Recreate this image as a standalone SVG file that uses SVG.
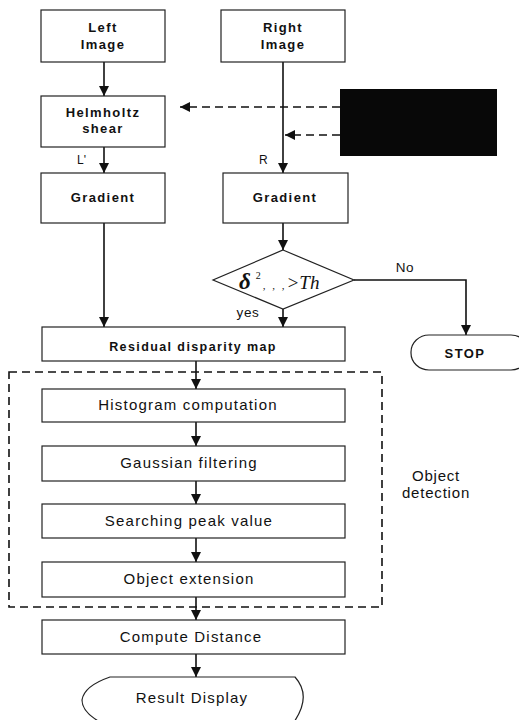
<svg xmlns="http://www.w3.org/2000/svg" width="519" height="720" viewBox="0 0 519 720">
<style>
.box{fill:#fff;stroke:#222;stroke-width:1.2}
.b{font-family:"Liberation Sans",Arial,sans-serif;font-weight:bold;font-size:13px;letter-spacing:1.4px;text-anchor:middle;fill:#111}
.r{font-family:"Liberation Sans",Arial,sans-serif;font-size:15px;letter-spacing:1.2px;text-anchor:middle;fill:#111}
.lab{font-family:"Liberation Sans",Arial,sans-serif;font-size:13.5px;letter-spacing:0.6px;text-anchor:middle;fill:#111}
.ln{fill:none;stroke:#111;stroke-width:1.6}
.dash{fill:none;stroke:#111;stroke-width:1.6;stroke-dasharray:8,5}
</style>
<defs>
<marker id="ah" viewBox="0 0 10 10" refX="10" refY="5" markerWidth="10" markerHeight="10" markerUnits="userSpaceOnUse" orient="auto">
<path d="M0,0 L10,5 L0,10 z" fill="#111"/>
</marker>
</defs>
<g id="connectors">
<line class="ln" x1="104" y1="62" x2="104" y2="96" marker-end="url(#ah)"/>
<line class="ln" x1="104" y1="147" x2="104" y2="173" marker-end="url(#ah)"/>
<line class="ln" x1="283" y1="62" x2="283" y2="173" marker-end="url(#ah)"/>
<line class="dash" x1="340" y1="107" x2="180" y2="107" marker-end="url(#ah)"/>
<line class="dash" x1="340" y1="135" x2="285" y2="135" marker-end="url(#ah)"/>
<line class="ln" x1="283" y1="223" x2="283" y2="250" marker-end="url(#ah)"/>
<line class="ln" x1="104" y1="223" x2="104" y2="327" marker-end="url(#ah)"/>
<line class="ln" x1="283" y1="309" x2="283" y2="327" marker-end="url(#ah)"/>
<polyline class="ln" points="354,280 466,280 466,335" marker-end="url(#ah)"/>
<line class="ln" x1="196" y1="361" x2="196" y2="389" marker-end="url(#ah)"/>
<line class="ln" x1="196" y1="422" x2="196" y2="446" marker-end="url(#ah)"/>
<line class="ln" x1="196" y1="481" x2="196" y2="504" marker-end="url(#ah)"/>
<line class="ln" x1="196" y1="538" x2="196" y2="562" marker-end="url(#ah)"/>
<line class="ln" x1="196" y1="597" x2="196" y2="620" marker-end="url(#ah)"/>
<line class="ln" x1="196" y1="654" x2="196" y2="677" marker-end="url(#ah)"/>
<text x="77" y="164" font-family="Liberation Sans,Arial,sans-serif" font-size="12" fill="#111">L'</text>
<text x="259" y="164" font-family="Liberation Sans,Arial,sans-serif" font-size="12" fill="#111">R</text>
<text x="248" y="317" class="lab">yes</text>
<text x="405" y="272" class="lab">No</text>
</g>
<g id="object-detection">
<rect x="9" y="372" width="373" height="235" class="dash"/>
<text x="436" y="481" class="r" style="letter-spacing:0.8px">Object</text>
<text x="436" y="498" class="r" style="letter-spacing:0.8px">detection</text>
</g>
<g id="left-image">
<rect class="box" x="41" y="10" width="124" height="52"/>
<text class="b" x="103" y="32">Left</text>
<text class="b" x="103" y="49">Image</text>
</g>
<g id="right-image">
<rect class="box" x="221" y="10" width="124" height="52"/>
<text class="b" x="283" y="32">Right</text>
<text class="b" x="283" y="49">Image</text>
</g>
<g id="black-box">
<rect x="340" y="89" width="157" height="67" fill="#080808"/>
</g>
<g id="helmholtz">
<rect class="box" x="41" y="96" width="124" height="51"/>
<text class="b" x="103" y="117">Helmholtz</text>
<text class="b" x="103" y="133">shear</text>
</g>
<g id="gradient-left">
<rect class="box" x="41" y="173" width="124" height="50"/>
<text class="b" x="103" y="202">Gradient</text>
</g>
<g id="gradient-right">
<rect class="box" x="223" y="173" width="125" height="50"/>
<text class="b" x="285" y="202">Gradient</text>
</g>
<g id="decision">
<polygon class="box" points="283,250 354,280 283,309 213,280"/>
<text x="239" y="289" font-family="Liberation Serif,Times New Roman,serif" fill="#111"><tspan font-size="23" font-style="italic" font-weight="bold">δ</tspan><tspan font-size="10" dy="-10" dx="5">2</tspan><tspan font-size="11" dy="10" dx="2" letter-spacing="2">, , ,</tspan><tspan font-size="19" font-style="italic">&gt;Th</tspan></text>
</g>
<g id="stop">
<rect class="box" x="411" y="335" width="118" height="35" rx="18" ry="17"/>
<text class="b" x="465" y="358">STOP</text>
</g>
<g id="residual">
<rect class="box" x="42" y="327" width="303" height="34"/>
<text class="b" x="193" y="351" style="font-size:12.5px">Residual disparity map</text>
</g>
<g id="histogram">
<rect class="box" x="42" y="389" width="303" height="33"/>
<text class="r" x="188" y="410">Histogram computation</text>
</g>
<g id="gaussian">
<rect class="box" x="42" y="446" width="303" height="35"/>
<text class="r" x="189" y="468">Gaussian filtering</text>
</g>
<g id="searching">
<rect class="box" x="42" y="504" width="303" height="34"/>
<text class="r" x="189" y="526">Searching peak value</text>
</g>
<g id="extension">
<rect class="box" x="42" y="562" width="303" height="35"/>
<text class="r" x="189" y="584">Object extension</text>
</g>
<g id="compute">
<rect class="box" x="42" y="620" width="303" height="34"/>
<text class="r" x="191" y="642">Compute Distance</text>
</g>
<g id="result">
<path class="box" d="M110,677 L295,677 Q312,696 294,722 L100,722 Q82,712 82,700 Q84,686 110,677 Z"/>
<text class="r" x="192" y="703">Result Display</text>
</g>
</svg>
